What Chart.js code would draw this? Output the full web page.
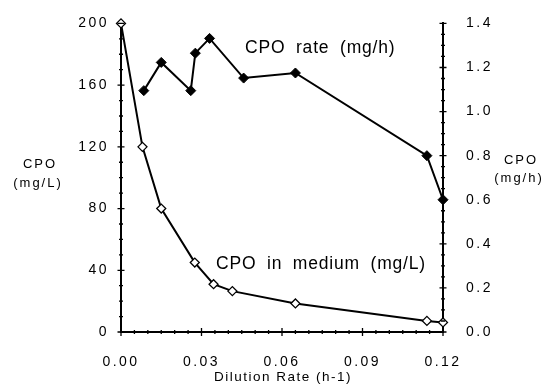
<!DOCTYPE html>
<html>
<head>
<meta charset="utf-8">
<script src="https://cdn.jsdelivr.net/npm/chart.js@4"></script>
<style>
  html, body { margin: 0; padding: 0; background: #fff; }
  #wrap { width: 546px; height: 385px; }
</style>
</head>
<body>
<div id="wrap"><canvas id="chart" width="546" height="385"></canvas></div>
<script>
// CPO in medium (left axis, mg/L)
const dilutionMedium = [0, 0.008, 0.015, 0.0275, 0.0345, 0.0415, 0.065, 0.114, 0.12]
const cpoMedium = [200, 120, 80, 45, 31, 26.5, 18.5, 7.2, 6.2]

// CPO rate (right axis, mg/h)
const dilutionRate = [0.0085, 0.015, 0.026, 0.0277, 0.033, 0.0457, 0.065, 0.114, 0.12]
const cpoRate = [1.095, 1.223, 1.095, 1.265, 1.332, 1.152, 1.175, 0.80, 0.60]

const xTicks = [0, 0.03, 0.06, 0.09, 0.12]
const leftTicks = [0, 40, 80, 120, 160, 200]
const rightTicks = [0, 0.2, 0.4, 0.6, 0.8, 1.0, 1.2, 1.4]

const FONT = "'Liberation Sans', Arial, Helvetica, sans-serif"

// Draws the major/minor tick marks crossing the axes and the free text labels
const decorations = {
  id: 'decorations',
  beforeDraw(chart) {
    chart.ctx.letterSpacing = '2.5px'
  },
  afterDraw(chart) {
    const { ctx, scales, chartArea } = chart
    const { x, y, y1 } = scales
    ctx.save()
    ctx.strokeStyle = '#000'
    ctx.lineWidth = 1.3

    ctx.beginPath()
    // left axis
    for (let v = 0; v <= 200.01; v += 10) {
      const py = y.getPixelForValue(v)
      const len = v % 40 === 0 ? 3.5 : 2
      ctx.moveTo(chartArea.left - len, py)
      ctx.lineTo(chartArea.left + len, py)
    }
    // right axis
    for (let i = 0; i <= 28; i++) {
      const py = y1.getPixelForValue(i * 0.05)
      const len = i % 4 === 0 ? 3.5 : 2
      ctx.moveTo(chartArea.right - len, py)
      ctx.lineTo(chartArea.right + len, py)
    }
    // bottom axis
    for (let i = 0; i <= 24; i++) {
      const px = x.getPixelForValue(i * 0.005)
      const len = i % 6 === 0 ? 4 : 2
      ctx.moveTo(px, chartArea.bottom - len)
      ctx.lineTo(px, chartArea.bottom + len)
    }
    ctx.stroke()

    ctx.fillStyle = '#000'
    ctx.textBaseline = 'middle'

    // series labels
    ctx.font = '17.5px ' + FONT
    ctx.letterSpacing = '0.8px'
    ctx.wordSpacing = '5px'
    ctx.textAlign = 'left'
    ctx.fillText('CPO rate (mg/h)', 245, 48)
    ctx.fillText('CPO in medium (mg/L)', 216, 264)

    // axis titles
    ctx.wordSpacing = '0px'
    ctx.textAlign = 'center'
    ctx.font = '13px ' + FONT
    ctx.letterSpacing = '2px'
    ctx.fillText('CPO', 40, 164)
    ctx.fillText('(mg/L)', 38, 183)
    ctx.fillText('CPO', 521, 160)
    ctx.fillText('(mg/h)', 519, 178)

    ctx.font = '13.5px ' + FONT
    ctx.letterSpacing = '1.5px'
    ctx.fillText('Dilution Rate (h-1)', 283, 377)
    ctx.restore()
  }
}

new Chart(document.getElementById('chart'), {
  type: 'scatter',
  data: {
    datasets: [
      {
        label: 'CPO rate (mg/h)',
        data: dilutionRate.map((d, i) => ({ x: d, y: cpoRate[i] })),
        yAxisID: 'y1',
        showLine: true,
        borderColor: '#000',
        borderWidth: 2,
        pointStyle: 'rectRot',
        pointRadius: 5,
        pointBackgroundColor: '#000',
        pointBorderColor: '#000',
        pointBorderWidth: 1,
        clip: false
      },
      {
        label: 'CPO in medium (mg/L)',
        data: dilutionMedium.map((d, i) => ({ x: d, y: cpoMedium[i] })),
        yAxisID: 'y',
        showLine: true,
        borderColor: '#000',
        borderWidth: 2,
        pointStyle: 'rectRot',
        pointRadius: 4.5,
        pointBackgroundColor: '#fff',
        pointBorderColor: '#000',
        pointBorderWidth: 1.3,
        clip: false
      }
    ]
  },
  options: {
    responsive: false,
    animation: false,
    layout: { padding: { top: 20, left: 0, right: 0, bottom: 0 } },
    plugins: {
      legend: { display: false },
      tooltip: { enabled: false }
    },
    scales: {
      x: {
        type: 'linear',
        min: 0,
        max: 0.12,
        afterBuildTicks: (s) => { s.ticks = xTicks.map(v => ({ value: v })) },
        afterFit: (s) => { s.height = 53 },
        grid: { display: false },
        border: { display: true, color: '#000', width: 2 },
        ticks: {
          color: '#000',
          padding: 14,
          maxRotation: 0,
          font: { family: FONT, size: 14 },
          callback: (v) => v.toFixed(2)
        }
      },
      y: {
        position: 'left',
        min: 0,
        max: 200,
        afterBuildTicks: (s) => { s.ticks = leftTicks.map(v => ({ value: v })) },
        afterFit: (s) => { s.width = 121 },
        grid: { display: false },
        border: { display: true, color: '#000', width: 2 },
        ticks: {
          color: '#000',
          padding: 4,
          font: { family: FONT, size: 14 },
          callback: (v) => String(v)
        }
      },
      y1: {
        position: 'right',
        min: 0,
        max: 1.4,
        afterBuildTicks: (s) => { s.ticks = rightTicks.map(v => ({ value: v })) },
        afterFit: (s) => { s.width = 103 },
        grid: { display: false },
        border: { display: true, color: '#000', width: 2 },
        ticks: {
          color: '#000',
          padding: 15,
          font: { family: FONT, size: 14 },
          callback: (v) => v.toFixed(1)
        }
      }
    }
  },
  plugins: [decorations]
})
</script>
</body>
</html>
